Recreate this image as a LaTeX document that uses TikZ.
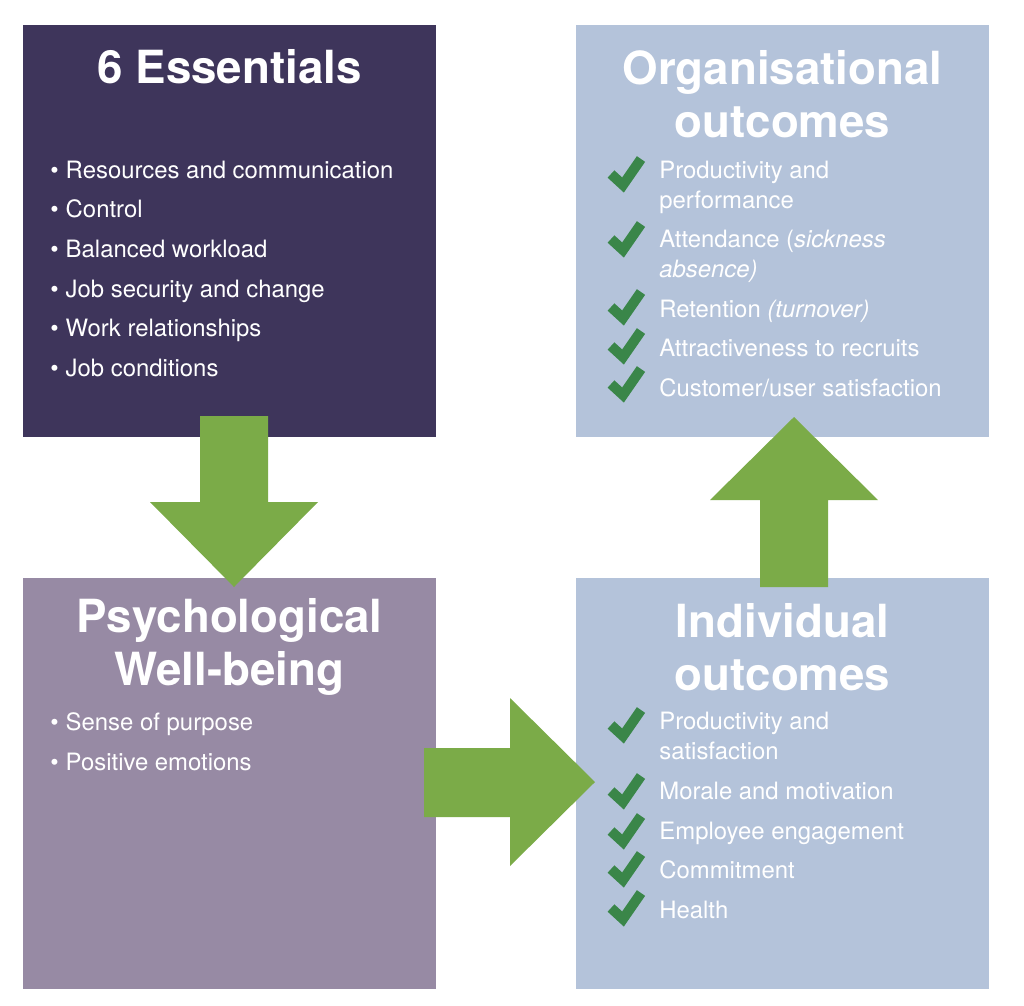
\documentclass[tikz,border=0pt]{standalone}
\usepackage{fontspec}
\setmainfont{TeX Gyre Heros}
\usetikzlibrary{positioning}

\definecolor{essdark}{HTML}{3E355B}
\definecolor{wellmauve}{HTML}{978AA4}
\definecolor{outblue}{HTML}{B4C3DA}
\definecolor{arrowgreen}{HTML}{7BAB48}
\definecolor{checkgreen}{HTML}{3A8649}

\newcommand{\chk}[1]{\draw[checkmark] (#1) ++(-15,1) -- ++(12,11) -- ++(18,-26);}

\begin{document}
\begin{tikzpicture}[x=0.02cm, y=-0.02cm,
    panel/.style={rectangle, minimum width=8.26cm, minimum height=8.24cm, inner sep=0pt},
    heading/.style={text=white, font=\fontsize{26}{30}\selectfont\bfseries, align=center},
    item/.style={text=white, font=\fontsize{13.6}{17}\selectfont, anchor=mid west, inner sep=0pt},
    bigarrow/.style={fill=arrowgreen, draw=none},
    checkmark/.style={draw=checkgreen, line width=10*0.02cm, miter limit=10}
]
\useasboundingbox (0,0) rectangle (1024,1005);

% Panels
\node[panel, fill=essdark] (ess) at (229.5,231) {};
\node[panel, fill=outblue] (org) at (782.5,231) {};
\node[panel, fill=wellmauve] (well) at (229.5,783.5) {};
\node[panel, fill=outblue] (ind) at (782.5,783.5) {};

% Headings
\node[heading] (esstitle) at (229.5,67) {6 Essentials};
\node[heading] (orgtitle) at (782.5,94) {Organisational\\outcomes};
\node[heading] (welltitle) at (229.5,647) {Psychological\\Well-being};
\node[heading] (indtitle) at (782.5,647) {Individual\\outcomes};

% 6 Essentials list
\foreach \txt [count=\i] in {Resources and communication, Control, Balanced workload,
    Job security and change, Work relationships, Job conditions}
  \node[item] (ess\i) at (50,134+39.6*\i) {\textbullet\hspace{4pt}\txt};

% Well-being list
\node[item] (well1) at (50,726) {\textbullet\hspace{4pt}Sense of purpose};
\node[item] (well2) at (50,766) {\textbullet\hspace{4pt}Positive emotions};

% Organisational outcomes
\node[item, align=left] (org1) at (659,204) {Productivity and\\performance};
\node[item, align=left] (org2) at (659,273) {Attendance (\textit{sickness}\\\textit{absence)}};
\node[item] (org3) at (659,313) {Retention \textit{(turnover)}};
\node[item] (org4) at (659,352) {Attractiveness to recruits};
\node[item] (org5) at (659,392) {Customer/user satisfaction};

% Individual outcomes
\node[item, align=left] (ind1) at (659,755) {Productivity and\\satisfaction};
\node[item] (ind2) at (659,795) {Morale and motivation};
\node[item] (ind3) at (659,835) {Employee engagement};
\node[item] (ind4) at (659,874) {Commitment};
\node[item] (ind5) at (659,914) {Health};

% Checks
\foreach \y in {173,238,306,345,383} {\chk{626,\y}}
\foreach \y in {724,790,830,868,907} {\chk{626,\y}}

% Green arrows
\fill[bigarrow] (200,416) -- (268,416) -- (268,502) -- (318,502) -- (234,587)
  -- (150,502) -- (200,502) -- cycle;
\fill[bigarrow] (424,748) -- (510,748) -- (510,698) -- (595,782) -- (510,866)
  -- (510,817) -- (424,817) -- cycle;
\fill[bigarrow] (760,587) -- (760,500) -- (710,500) -- (794,417) -- (878,500)
  -- (828,500) -- (828,587) -- cycle;

\end{tikzpicture}
\end{document}
